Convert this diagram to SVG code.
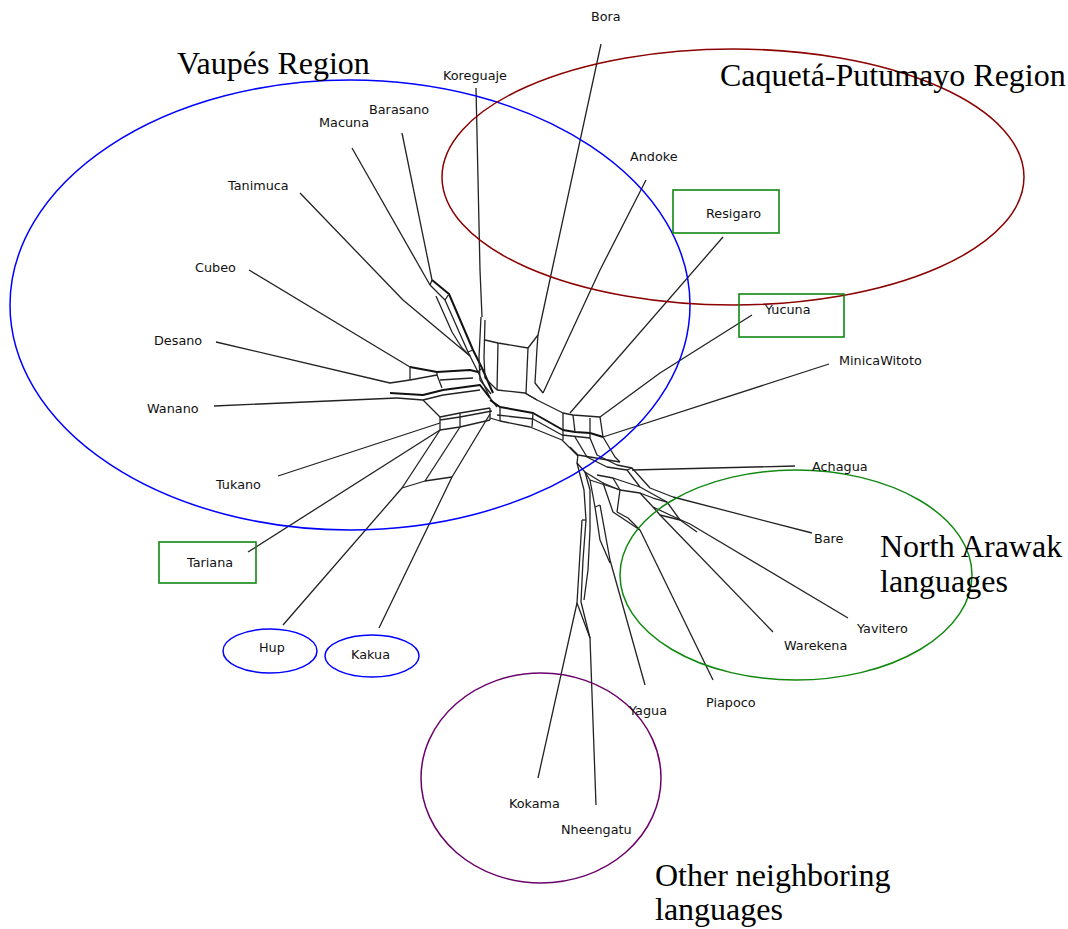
<svg xmlns="http://www.w3.org/2000/svg" width="1068" height="929" viewBox="0 0 1068 929">
<style>
.e{fill:none;stroke:#222;stroke-width:1.3;stroke-linejoin:round}
.t{fill:none;stroke:#111;stroke-width:2;stroke-linejoin:round}
.lab{font-family:"DejaVu Sans","Liberation Sans",sans-serif;font-size:12.8px;fill:#111}
.ttl{font-family:"Liberation Serif","Times New Roman",serif;font-size:32px;fill:#000}
.reg{fill:none;stroke-width:1.5}
.box{fill:none;stroke:#118811;stroke-width:1.6}
</style>
<rect width="1068" height="929" fill="#fff"/>
<g id="connectors">
<!-- leaf edges -->
<polyline class="e" points="601,44 552,270 538,335"/>
<polyline class="e" points="476,88 480,270 482,317"/>
<polyline class="e" points="402,133 432,280"/>
<polyline class="e" points="352,148 430,285"/>
<polyline class="e" points="300,193 403,300 470,356"/>
<polyline class="e" points="249,270 390,355 410,367"/>
<polyline class="e" points="216,342 390,383 410,380"/>
<polyline class="e" points="214,406 397,398"/>
<polyline class="e" points="278,476 440,423"/>
<polyline class="e" points="248,552 440,430"/>
<polyline class="e" points="283,625 402,488 440,430"/>
<polyline class="e" points="379,628 452,477 490,414"/>
<polyline class="e" points="402,488 425,481 452,477"/>
<polyline class="e" points="425,481 460,427"/>
<polyline class="e" points="646,180 600,270 543,393"/>
<polyline class="e" points="723,237 570,413"/>
<polyline class="e" points="752,315 660,373 600,417"/>
<polyline class="e" points="829,364 603,437"/>
<polyline class="e" points="795,466 632,470"/>
<polyline class="e" points="812,533 673,497"/>
<polyline class="e" points="848,618 690,524"/>
<polyline class="e" points="773,632 660,515"/>
<polyline class="e" points="713,680 640,530"/>
<polyline class="e" points="645,685 610,560 600,505"/>
<polyline class="e" points="538,778 577,603 582,520"/>
<polyline class="e" points="596,805 590,638 577,603"/>
<!-- Macuna / Barasano band -->
<polyline class="e" points="430,285 445,300 468,352 478,372 490,398 497,407"/>
<polyline class="t" points="432,280 449,294 473,350 482,368 493,393"/>
<polyline class="e" points="436,296 452,332 462,348 470,356"/>
<line class="e" x1="430" y1="285" x2="432" y2="280"/>
<line class="e" x1="445" y1="300" x2="449" y2="294"/>
<line class="e" x1="468" y1="352" x2="473" y2="350"/>
<line class="e" x1="478" y1="372" x2="482" y2="368"/>
<!-- Koreguaje / Bora box -->
<polyline class="e" points="481,317 479,357 480,380 491,394"/>
<polyline class="e" points="485,320 484,358 485,378 497,390"/>
<polyline class="e" points="485,340 498,343 528,348 538,335"/>
<polyline class="e" points="498,343 497,390"/>
<polyline class="e" points="528,348 526,393"/>
<polyline class="e" points="538,335 537,348 535,383 543,393"/>
<!-- left hub -->
<polyline class="t" points="410,367 437,372 470,370 478,372"/>
<polyline class="e" points="410,380 437,375 442,388"/>
<polyline class="e" points="437,372 437,375"/>
<polyline class="e" points="410,367 410,380"/>
<polyline class="e" points="440,380 473,378"/>
<polyline class="t" points="390,393 423,395 443,390 480,385 490,398"/>
<polyline class="e" points="397,398 423,400 443,395 480,390"/>
<polyline class="e" points="423,400 440,417 460,413 490,408"/>
<polyline class="e" points="440,420 460,417 492,411"/>
<polyline class="e" points="440,430 460,427 490,420"/>
<polyline class="e" points="440,417 440,430"/>
<polyline class="e" points="460,413 460,427"/>
<polyline class="e" points="490,408 490,420"/>
<!-- arc middle -->
<polyline class="e" points="497,390 525,393 537,400 563,413 573,415 600,417"/>
<polyline class="t" points="490,400 500,407 533,413 563,430 575,432 590,433 603,437"/>
<polyline class="e" points="497,415 533,419 562,435 590,438"/>
<polyline class="e" points="490,418 500,421 530,427 562,440 575,453 578,456"/>
<polyline class="e" points="500,407 500,421"/>
<polyline class="e" points="533,413 532,427"/>
<polyline class="e" points="563,413 563,440"/>
<polyline class="e" points="573,415 575,432"/>
<polyline class="e" points="590,418 590,438"/>
<polyline class="e" points="600,417 603,437"/>
<polyline class="e" points="525,393 537,400"/>
<!-- lower junction -->
<polyline class="e" points="570,447 578,455 620,462"/>
<polyline class="e" points="575,437 587,457 607,467 627,470 640,487 667,502 680,520 697,532"/>
<polyline class="e" points="590,438 597,455 617,465 632,468 650,488 673,497"/>
<polyline class="e" points="603,437 615,457 620,462"/>
<polyline class="e" points="578,455 577,463 585,472 603,483 613,512 640,530"/>
<polyline class="e" points="585,472 590,480 620,490 617,512"/>
<polyline class="e" points="603,483 620,490 640,493 653,507 670,515 690,524"/>
<polyline class="e" points="597,475 613,478 640,487"/>
<polyline class="e" points="613,478 620,490"/>
<polyline class="e" points="640,493 653,498 667,502"/>
<polyline class="e" points="653,507 660,515 680,520"/>
<polyline class="e" points="617,512 628,518 640,530"/>
<polyline class="e" points="627,470 632,468"/>
<!-- lower bundle -->
<polyline class="e" points="577,463 584,490 586,520 583,560 581,602 590,638"/>
<polyline class="e" points="585,472 590,490 590,530 588,570 584,600"/>
<polyline class="e" points="590,480 595,507 600,540 610,563"/>
<polyline class="e" points="586,520 582,520"/>
<polyline class="e" points="595,507 600,505"/>
</g>
<g id="regions">
<ellipse class="reg" cx="350" cy="305" rx="340" ry="225" stroke="#0000ff"/>
<ellipse class="reg" cx="733" cy="177" rx="291" ry="128" stroke="#8b0000"/>
<ellipse class="reg" cx="796" cy="575" rx="176" ry="105" stroke="#118811"/>
<ellipse class="reg" cx="541" cy="778" rx="120" ry="105" stroke="#6b006b"/>
</g>
<g id="n-bora"><text class="lab" x="591" y="21">Bora</text></g>
<g id="n-koreguaje"><text class="lab" x="443" y="80">Koreguaje</text></g>
<g id="n-barasano"><text class="lab" x="369" y="114">Barasano</text></g>
<g id="n-macuna"><text class="lab" x="319" y="127">Macuna</text></g>
<g id="n-tanimuca"><text class="lab" x="228" y="190">Tanimuca</text></g>
<g id="n-cubeo"><text class="lab" x="195" y="272">Cubeo</text></g>
<g id="n-desano"><text class="lab" x="154" y="345">Desano</text></g>
<g id="n-wanano"><text class="lab" x="147" y="413">Wanano</text></g>
<g id="n-tukano"><text class="lab" x="216" y="489">Tukano</text></g>
<g id="n-tariana"><rect class="box" x="159" y="542" width="97" height="41"/><text class="lab" x="187" y="567">Tariana</text></g>
<g id="n-hup"><ellipse class="reg" cx="270" cy="651" rx="47" ry="22" stroke="#0000ff"/><text class="lab" x="259" y="652">Hup</text></g>
<g id="n-kakua"><ellipse class="reg" cx="372" cy="656" rx="47" ry="21" stroke="#0000ff"/><text class="lab" x="351" y="659">Kakua</text></g>
<g id="n-andoke"><text class="lab" x="630" y="161">Andoke</text></g>
<g id="n-resigaro"><rect class="box" x="673" y="190" width="106" height="43"/><text class="lab" x="706" y="218">Resigaro</text></g>
<g id="n-yucuna"><rect class="box" x="739" y="294" width="105" height="43"/><text class="lab" x="765" y="314">Yucuna</text></g>
<g id="n-minicawitoto"><text class="lab" x="839" y="365">MinicaWitoto</text></g>
<g id="n-achagua"><text class="lab" x="812" y="471">Achagua</text></g>
<g id="n-bare"><text class="lab" x="814" y="543">Bare</text></g>
<g id="n-yavitero"><text class="lab" x="857" y="633">Yavitero</text></g>
<g id="n-warekena"><text class="lab" x="784" y="650">Warekena</text></g>
<g id="n-piapoco"><text class="lab" x="706" y="707">Piapoco</text></g>
<g id="n-yagua"><text class="lab" x="629" y="715">Yagua</text></g>
<g id="n-kokama"><text class="lab" x="509" y="808">Kokama</text></g>
<g id="n-nheengatu"><text class="lab" x="561" y="834">Nheengatu</text></g>
<g id="titles">
<text class="ttl" x="177" y="74">Vaupés Region</text>
<text class="ttl" x="720" y="86">Caquetá-Putumayo Region</text>
<text class="ttl" x="880" y="557">North Arawak</text>
<text class="ttl" x="880" y="592">languages</text>
<text class="ttl" x="655" y="886">Other neighboring</text>
<text class="ttl" x="655" y="920">languages</text>
</g>
</svg>
